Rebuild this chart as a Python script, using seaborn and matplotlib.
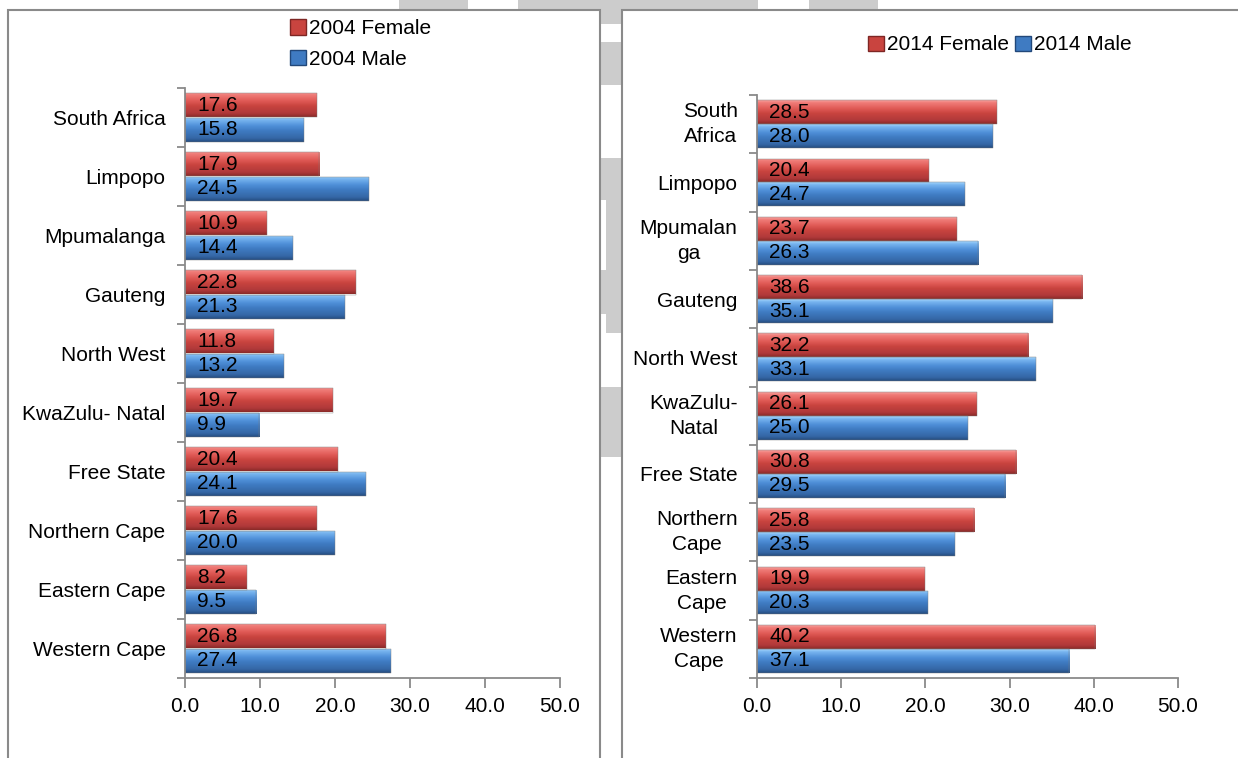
import numpy as np
import pandas as pd
import matplotlib
matplotlib.use("Agg")
import matplotlib.pyplot as plt
import seaborn as sns
from matplotlib.patches import Rectangle, Patch
from matplotlib.colors import LinearSegmentedColormap

# ---- data -------------------------------------------------------------
provinces_2004 = ["South Africa", "Limpopo", "Mpumalanga", "Gauteng", "North West",
                  "KwaZulu- Natal", "Free State", "Northern Cape", "Eastern Cape",
                  "Western Cape"]
female_2004 = [17.6, 17.9, 10.9, 22.8, 11.8, 19.7, 20.4, 17.6, 8.2, 26.8]
male_2004 = [15.8, 24.5, 14.4, 21.3, 13.2, 9.9, 24.1, 20.0, 9.5, 27.4]

provinces_2014 = ["South\nAfrica", "Limpopo", "Mpumalan\nga", "Gauteng", "North West",
                  "KwaZulu-\nNatal", "Free State", "Northern\nCape", "Eastern\nCape",
                  "Western\nCape"]
female_2014 = [28.5, 20.4, 23.7, 38.6, 32.2, 26.1, 30.8, 25.8, 19.9, 40.2]
male_2014 = [28.0, 24.7, 26.3, 35.1, 33.1, 25.0, 29.5, 23.5, 20.3, 37.1]

x_ticks = [0, 10, 20, 30, 40, 50]
series_2004 = ["2004 Female", "2004 Male"]
series_2014 = ["2014 Female", "2014 Male"]

# ---- style ------------------------------------------------------------
sns.set_theme(style="white")
plt.rcParams["font.family"] = ["Liberation Sans", "DejaVu Sans"]
plt.rcParams["text.color"] = "black"
plt.rcParams["xtick.color"] = "black"
plt.rcParams["ytick.color"] = "black"
NARROW = ["Liberation Sans Narrow", "Liberation Sans", "DejaVu Sans"]

RED = "#c9443f"
BLUE = "#3f7bc2"
GREY = "#8a8a8a"
red_cmap = LinearSegmentedColormap.from_list(
    "red_bevel", [(0, "#f5a3a0"), (0.1, "#f07c78"), (0.35, "#e05a56"),
                  (0.55, "#c9443f"), (0.85, "#b0393a"), (1, "#8a2a28")])
blue_cmap = LinearSegmentedColormap.from_list(
    "blue_bevel", [(0, "#a6d6fc"), (0.1, "#79b6f0"), (0.35, "#4f8fd8"),
                   (0.55, "#3f7bc2"), (0.85, "#3567a6"), (1, "#254d80")])

W, H = 1238, 758
fig = plt.figure(figsize=(W / 100, H / 100), dpi=100)


def px_rect(x, y, w, h, **kw):
    """Rectangle in figure pixels measured from the top-left corner."""
    return Rectangle((x / W, 1 - (y + h) / H), w / W, h / H,
                     transform=fig.transFigure, **kw)


# light grey background blocks behind the panels
for (x, y, w, h) in [(399, 0, 69, 9), (518, 0, 240, 9), (809, 0, 69, 9),
                     (594, 0, 28, 24), (594, 42, 28, 43), (594, 158, 28, 42),
                     (606, 158, 16, 175), (594, 270, 28, 44), (594, 387, 28, 70)]:
    fig.add_artist(px_rect(x, y, w, h, facecolor="#cccccc", edgecolor="none", zorder=-3))

# panel frames
fig.add_artist(px_rect(8, 10, 592, 800, facecolor="white", edgecolor=GREY, lw=1.5, zorder=-2))
fig.add_artist(px_rect(622, 10, 700, 800, facecolor="white", edgecolor=GREY, lw=1.5, zorder=-2))


def draw_panel(ax, provinces, female, male, series):
    n = len(provinces)
    df = pd.DataFrame({
        "province": provinces * 2,
        "value": female + male,
        "series": [series[0]] * n + [series[1]] * n,
    })
    sns.barplot(data=df, x="value", y="province", hue="series", orient="h",
                palette=[RED, BLUE], width=0.82, saturation=1, errorbar=None,
                legend=False, ax=ax)

    grad = np.linspace(0, 1, 64).reshape(-1, 1)
    for cont, cmap in zip(ax.containers, [red_cmap, blue_cmap]):
        for bar, val in zip(cont, cont.datavalues):
            x0, y0 = bar.get_x(), bar.get_y()
            w, h = bar.get_width(), bar.get_height()
            bar.set_facecolor("none")
            bar.set_edgecolor("#7a7a7a")
            bar.set_linewidth(0.3)
            bar.set_zorder(3)
            im = ax.imshow(grad, cmap=cmap, aspect="auto", origin="upper",
                           extent=(x0, x0 + w, y0 + h, y0), zorder=2,
                           interpolation="bilinear")
            im.set_clip_path(bar)
            ax.annotate(f"{val:.1f}", xy=(0, y0 + h / 2), xytext=(9, 0),
                        textcoords="offset points", ha="left", va="center",
                        fontsize=15, family=NARROW, color="black", zorder=4)

    ax.set_xlim(0, 50)
    ax.set_ylim(n - 0.5, -0.5)
    ax.set_xticks(x_ticks)
    ax.set_xticklabels([f"{t:.1f}" for t in x_ticks], fontsize=15)
    ax.set_yticks(range(n))
    ax.set_yticklabels(provinces, fontsize=15)
    for t in ax.get_yticklabels():
        t.set_multialignment("center")
        t.set_linespacing(1.4)
        if "\n" in t.get_text():
            t.set_verticalalignment("center")
    ax.set_yticks(np.arange(-0.5, n, 1), minor=True)
    ax.set_xlabel("")
    ax.set_ylabel("")

    sns.despine(ax=ax)
    for side in ("left", "bottom"):
        ax.spines[side].set_color(GREY)
        ax.spines[side].set_linewidth(1.3)
    ax.tick_params(axis="x", which="major", bottom=True, direction="out",
                   length=7, width=1.3, color=GREY, labelcolor="black", pad=7)
    ax.tick_params(axis="y", which="major", left=True, length=0, pad=14,
                   labelcolor="black")
    ax.tick_params(axis="y", which="minor", left=True, direction="out",
                   length=6, width=1.3, color=GREY)
    ax.set_facecolor("none")


ax1 = fig.add_axes([185 / W, 1 - 678 / H, 375 / W, 590 / H])
draw_panel(ax1, provinces_2004, female_2004, male_2004, series_2004)

ax2 = fig.add_axes([757 / W, 1 - 678 / H, 421 / W, 583 / H])
draw_panel(ax2, provinces_2014, female_2014, male_2014, series_2014)

# legends
def handles(series):
    return [Patch(facecolor=RED, edgecolor="#7e2624", label=series[0]),
            Patch(facecolor=BLUE, edgecolor="#22487a", label=series[1])]

fig.legend(handles=handles(series_2004), loc="center left",
           bbox_to_anchor=(280 / W, 1 - 44 / H), frameon=False, ncol=1,
           fontsize=15, handlelength=0.75, handleheight=0.75, labelcolor="black",
           handletextpad=0.15, labelspacing=0.55, borderpad=0)
fig.legend(handles=handles(series_2014), loc="center left",
           bbox_to_anchor=(858 / W, 1 - 45 / H), frameon=False, ncol=2,
           fontsize=15, handlelength=0.75, handleheight=0.75, labelcolor="black",
           handletextpad=0.15, columnspacing=0.3, borderpad=0)

fig.savefig("out.png", dpi=100)
